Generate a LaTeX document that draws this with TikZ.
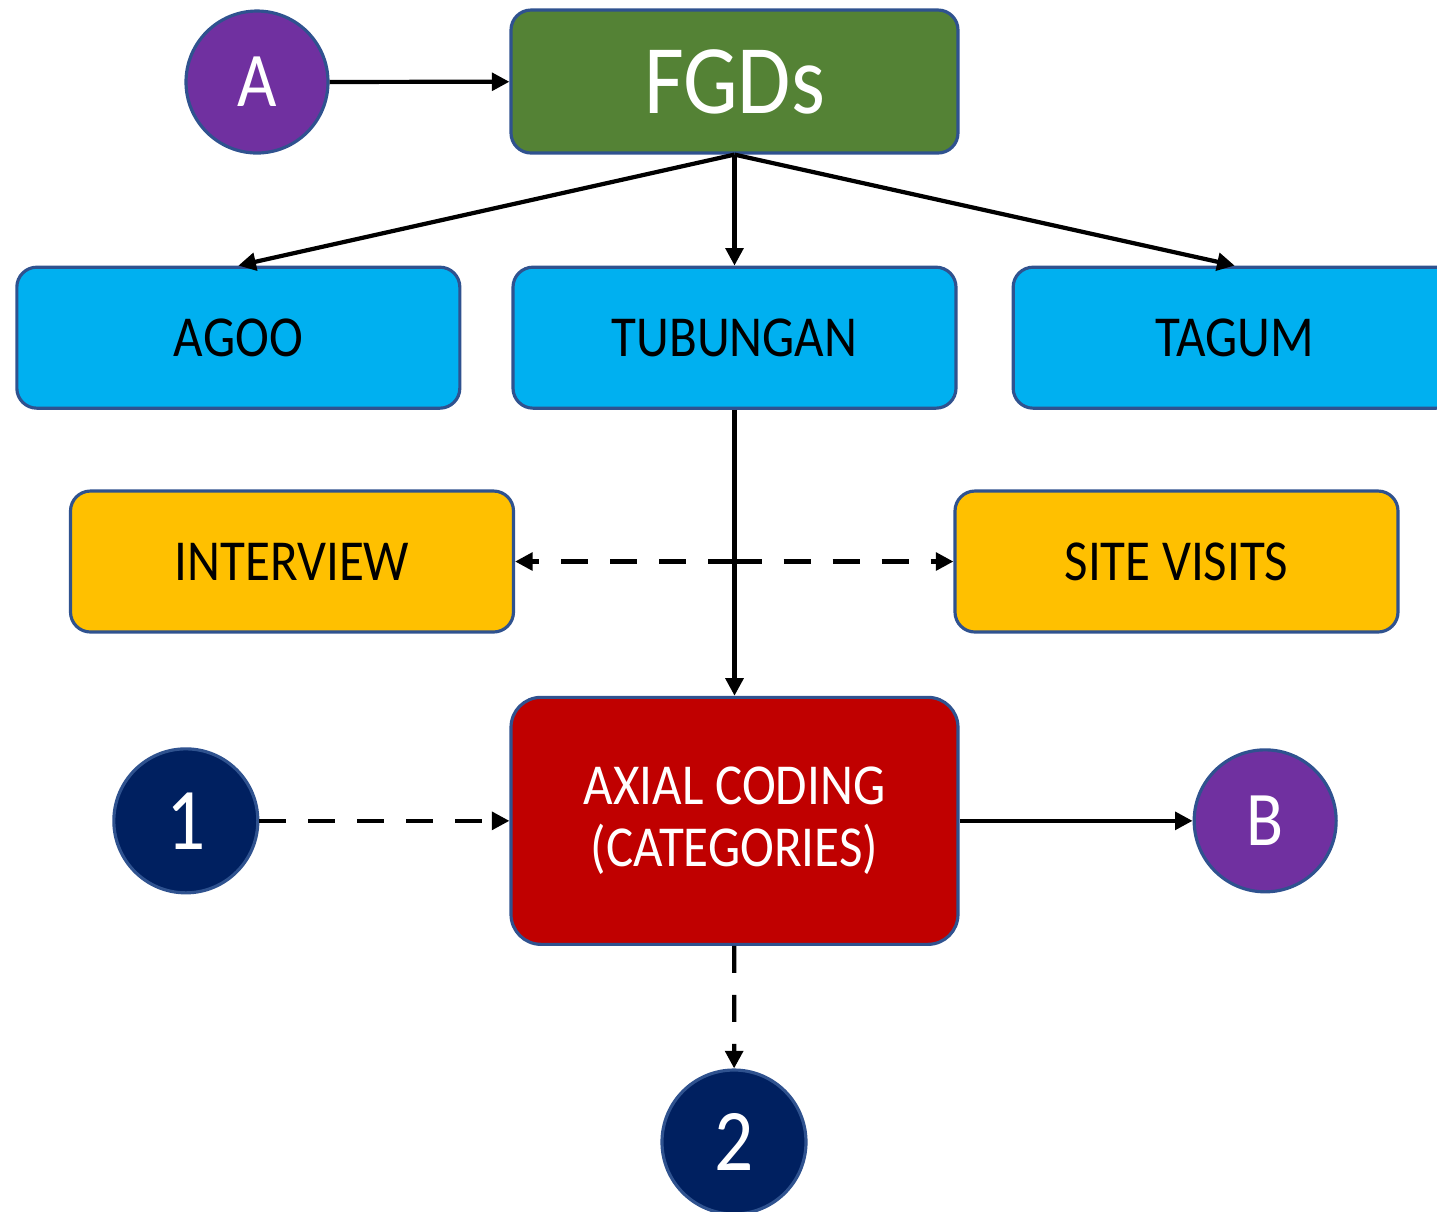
\documentclass[tikz,border=0pt]{standalone}
\usepackage{fontspec}
\setmainfont{Carlito}[FakeStretch=0.88]
\usetikzlibrary{positioning, arrows.meta}

\definecolor{rimblue}{HTML}{2F528F}
\definecolor{fgdgreen}{HTML}{548235}
\definecolor{siteblue}{HTML}{00B0F0}
\definecolor{auxgold}{HTML}{FFC000}
\definecolor{codered}{HTML}{C00000}
\definecolor{markpurple}{HTML}{7030A0}
\definecolor{marknavy}{HTML}{002060}

\begin{document}
\begin{tikzpicture}[>={Triangle[length=5pt,width=5pt]},node distance=0.5cm,
    base node/.style={draw=rimblue,line width=0.9pt,inner sep=0pt},
    fgd node/.style={base node,rounded corners=0.2cm,fill=fgdgreen,text=white,minimum width=4.47cm,minimum height=1.43cm,font=\fontsize{28}{30}\selectfont},
    site node/.style={base node,rounded corners=0.2cm,fill=siteblue,minimum width=4.43cm,minimum height=1.41cm,font=\fontsize{16.5}{18}\selectfont},
    aux node/.style={base node,rounded corners=0.2cm,fill=auxgold,minimum width=4.43cm,minimum height=1.41cm,font=\fontsize{16.5}{18}\selectfont},
    coding node/.style={base node,rounded corners=0.3cm,fill=codered,text=white,align=center,minimum width=4.47cm,minimum height=2.47cm,font=\fontsize{16.5}{17.6}\selectfont},
    letter node/.style={base node,circle,fill=markpurple,text=white,minimum size=1.42cm,font=\fontsize{22}{24}\selectfont},
    number node/.style={base node,circle,fill=marknavy,text=white,minimum size=1.44cm,font=\fontsize{25}{27}\selectfont},
    solid link/.style={->,line width=1.2pt},
    dash link/.style={->,line width=1.2pt,dash pattern=on 0.27cm off 0.22cm}]

\clip (0,0) rectangle (14.37,-12.11);

\node[fgd node]                 (fgds)      at (7.345,-0.815)  {FGDs};
\node[letter node]              (a)         at (2.57,-0.82)    {A};
\node[site node]                (tubungan)  [below=1.11cm of fgds] {TUBUNGAN};
\node[site node]                (agoo)      [left=0.5cm of tubungan]  {AGOO};
\node[site node]                (tagum)     [right=0.54cm of tubungan] {TAGUM};
\node[aux node]                 (interview) at (2.92,-5.615)   {INTERVIEW};
\node[aux node]                 (site)      at (11.765,-5.615) {SITE VISITS};
\node[coding node]              (axial)     [below=2.86cm of tubungan] {AXIAL CODING\\(CATEGORIES)};
\node[number node]              (one)       [left=2.5cm of axial]  {1};
\node[letter node]              (b)         [right=2.33cm of axial] {B};
\node[number node]              (two)       at (7.34,-11.42)   {2};

\coordinate (cross) at (tubungan.south |- interview.east);

\path[solid link]
(a) edge (fgds)
(fgds.south) edge (agoo.north)
(fgds.south) edge (tubungan.north)
(fgds.south) edge (tagum.north)
(tubungan) edge (axial)
(axial) edge (b)
;
\path[dash link]
(cross) edge (interview)
(cross) edge (site)
(one) edge (axial)
(axial) edge (two)
;
\end{tikzpicture}
\end{document}
